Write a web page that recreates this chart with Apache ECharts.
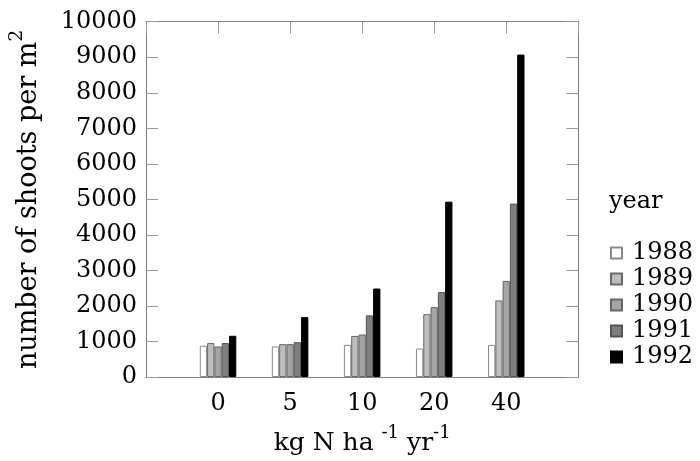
<!DOCTYPE html>
<html>
<head>
<meta charset="utf-8">
<script src="https://cdn.jsdelivr.net/npm/echarts@6/dist/echarts.min.js"></script>
<style>html,body{margin:0;padding:0;background:#fff;}#c{width:700px;height:461px;}</style>
</head>
<body>
<div id="c"></div>
<script>
var categories = ['0', '5', '10', '20', '40'];
var years = ['1988', '1989', '1990', '1991', '1992'];
var v1988 = [880, 860, 905, 800, 905];
var v1989 = [955, 925, 1155, 1770, 2155];
var v1990 = [860, 925, 1195, 1965, 2705];
var v1991 = [955, 980, 1735, 2390, 4880];
var v1992 = [1160, 1685, 2490, 4935, 9075];
var yTicks = [0, 1000, 2000, 3000, 4000, 5000, 6000, 7000, 8000, 9000, 10000];

var values = [v1988, v1989, v1990, v1991, v1992];
var fills = ['#ffffff', '#bdbdbd', '#a4a4a4', '#7f7f7f', '#000000'];
var borders = ['#8a8a8a', '#6a6a6a', '#666666', '#555555', '#000000'];
var FONT = 'DejaVu Serif';
var axisCats = [''].concat(categories).concat(['']);

var series = years.map(function (y, i) {
  return {
    name: y, type: 'bar', barWidth: 7.3, barGap: '0%',
    data: [null].concat(values[i]).concat([null]),
    itemStyle: { color: fills[i], borderColor: borders[i], borderWidth: 1 }
  };
});

var chart = echarts.init(document.getElementById('c'), null, { renderer: 'canvas' });
chart.setOption({
  animation: false,
  grid: { left: 145, right: 121.7, top: 21.7, bottom: 79.3 },
  xAxis: [{
    type: 'category', data: axisCats, boundaryGap: false, position: 'bottom',
    axisLine: { onZero: false, lineStyle: { color: '#808080', width: 1 } },
    axisTick: { show: false },
    axisLabel: { fontFamily: FONT, fontSize: 24, color: '#000', margin: 15, interval: 0 },
    name: '{t|kg N ha }{s|-1}{t| yr}{s|-1}',
    nameLocation: 'middle', nameGap: 47,
    nameTextStyle: { rich: {
      t: { fontFamily: FONT, fontSize: 25, color: '#000', verticalAlign: 'bottom', lineHeight: 32 },
      s: { fontFamily: FONT, fontSize: 18, color: '#000', verticalAlign: 'top', lineHeight: 32 }
    } }
  }, {
    type: 'category', data: axisCats, boundaryGap: false, position: 'top',
    axisLine: { onZero: false, lineStyle: { color: '#808080', width: 1 } },
    axisTick: { show: true, inside: true, length: 12, interval: 0, lineStyle: { color: '#999' } },
    axisLabel: { show: false }
  }],
  yAxis: [{
    type: 'value', min: yTicks[0], max: yTicks[yTicks.length - 1], interval: 1000, position: 'left',
    splitLine: { show: false },
    axisLine: { show: true, onZero: false, lineStyle: { color: '#808080', width: 1 } },
    axisTick: { show: true, inside: true, length: 12, lineStyle: { color: '#999' } },
    axisLabel: { fontFamily: FONT, fontSize: 24, color: '#000', margin: 9, formatter: function (v) { return String(v); } },
    name: '{t|number of shoots per m}{s|2}',
    nameLocation: 'middle', nameRotate: 90, nameGap: 104,
    nameTextStyle: { rich: {
      t: { fontFamily: FONT, fontSize: 27, color: '#000', verticalAlign: 'bottom', lineHeight: 34 },
      s: { fontFamily: FONT, fontSize: 19, color: '#000', verticalAlign: 'top', lineHeight: 34 }
    } }
  }, {
    type: 'value', min: yTicks[0], max: yTicks[yTicks.length - 1], interval: 1000, position: 'right',
    splitLine: { show: false },
    axisLine: { show: true, onZero: false, lineStyle: { color: '#808080', width: 1 } },
    axisTick: { show: true, inside: true, length: 12, lineStyle: { color: '#999' } },
    axisLabel: { show: false }
  }],
  legend: {
    data: years, orient: 'vertical', left: 605, top: 236,
    itemWidth: 11, itemHeight: 11, itemGap: 2, icon: 'rect',
    textStyle: { fontFamily: FONT, fontSize: 24, color: '#000', padding: [0, 0, 0, 5] }
  },
  graphic: [{
    type: 'text', left: 609, top: 190,
    style: { text: 'year', font: '24px "DejaVu Serif"', fill: '#000' }
  }],
  series: series
});
</script>
</body>
</html>
